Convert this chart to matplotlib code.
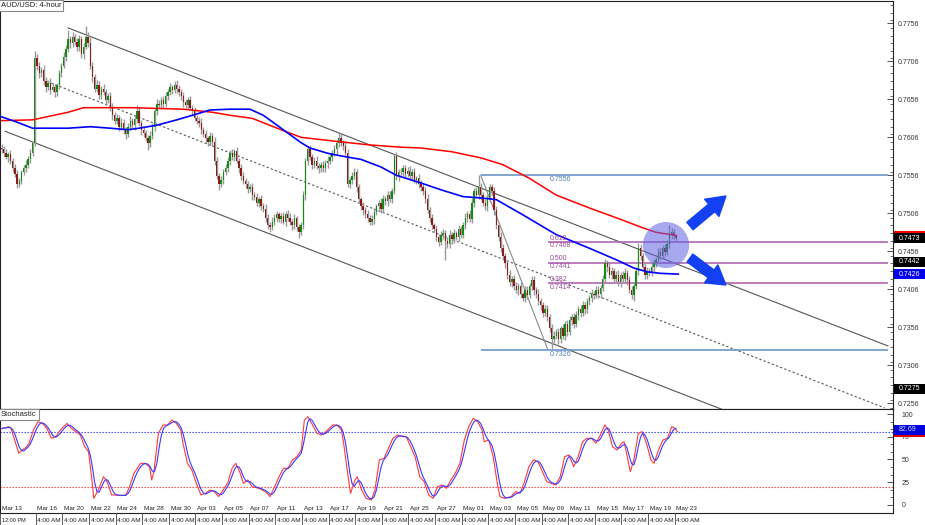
import numpy as np
import matplotlib
matplotlib.use("Agg")
import matplotlib.pyplot as plt
from matplotlib import font_manager
from matplotlib.patches import Ellipse, Rectangle
from matplotlib.transforms import blended_transform_factory
from matplotlib.lines import Line2D

_names = {f.name for f in font_manager.fontManager.ttflist}
FONT = "Liberation Sans Narrow" if "Liberation Sans Narrow" in _names else "Liberation Sans"
plt.rcParams["font.family"] = [FONT, "DejaVu Sans"]

# ---------------- data (prices in pips, 1 pip = 0.0001) ----------------
first_open = 7592
closes = [
    7590, 7585, 7580, 7584, 7575, 7565, 7558, 7545, 7548, 7560,
    7565, 7570, 7578, 7586, 7598, 7710, 7700, 7690, 7695, 7680,
    7672, 7678, 7668, 7672, 7665, 7675, 7690, 7700, 7712, 7722,
    7735, 7730, 7738, 7732, 7725, 7735, 7715, 7725, 7738, 7730,
    7700, 7685, 7670, 7675, 7662, 7670, 7665, 7655, 7660, 7645,
    7635, 7628, 7632, 7620, 7625, 7615, 7610, 7620, 7628, 7622,
    7630, 7640, 7625, 7615, 7612, 7605, 7598, 7608, 7620, 7640,
    7650, 7648, 7655, 7650, 7660, 7665, 7672, 7668, 7675, 7670,
    7665, 7660, 7652, 7648, 7655, 7645, 7640, 7632, 7628, 7625,
    7615, 7610, 7605, 7600, 7608, 7600, 7575, 7555, 7545, 7550,
    7560, 7565, 7575, 7585, 7580, 7588, 7575, 7565, 7555, 7548,
    7545, 7538, 7540, 7530, 7528, 7520, 7525, 7515, 7512, 7500,
    7490, 7488, 7495, 7500, 7505, 7498, 7502, 7495, 7505, 7500,
    7495, 7490, 7500, 7488, 7482, 7490, 7530, 7575, 7590, 7580,
    7570, 7575, 7568, 7565, 7570, 7565, 7572, 7575, 7580, 7585,
    7590, 7598, 7605, 7598, 7595, 7585, 7545, 7550, 7555, 7560,
    7540, 7525, 7515, 7510, 7505, 7500, 7495, 7498, 7508, 7515,
    7520, 7512, 7525, 7522, 7530, 7525, 7535, 7582, 7555, 7560,
    7560, 7565, 7558, 7562, 7555, 7560, 7550, 7552, 7545, 7540,
    7535, 7525, 7510, 7500, 7490, 7485, 7475, 7468, 7478, 7480,
    7470, 7465, 7478, 7472, 7480, 7475, 7485, 7478, 7490, 7500,
    7505, 7498, 7520, 7535, 7530, 7540, 7530, 7520, 7515, 7525,
    7540, 7535, 7510, 7490, 7475, 7460, 7450, 7440, 7425, 7415,
    7420, 7410, 7405, 7410, 7400, 7395, 7405, 7398, 7410, 7418,
    7405, 7400, 7390, 7385, 7375, 7380, 7370, 7355, 7340, 7345,
    7350, 7340, 7355, 7345, 7360, 7350, 7365, 7370, 7360, 7372,
    7380, 7375, 7385, 7380, 7390, 7395, 7400, 7398, 7405, 7400,
    7408, 7420, 7440, 7435, 7425, 7430, 7420, 7425, 7415, 7425,
    7420, 7428, 7418, 7405, 7398, 7410, 7430, 7460, 7450, 7435,
    7425, 7430, 7428, 7435, 7440, 7445, 7455, 7450, 7460, 7455,
    7465, 7478, 7482, 7476, 7473,
]
up_wick = [
    5, 4, 6, 3, 5, 4, 6, 5, 4, 3, 5, 6, 4, 5, 3, 10, 6, 5, 4, 6,
    5, 4, 6, 5, 4, 3, 5, 4, 6, 5, 12, 5, 6, 4, 5, 6, 4, 5, 14, 6,
    8, 5, 4, 6, 5, 4, 6, 5, 4, 5, 6, 4, 5, 3, 6, 5, 4, 5, 6, 4,
    5, 8, 6, 4, 5, 3, 4, 6, 5, 4, 6, 5, 4, 5, 6, 4, 5, 3, 5, 6,
    5, 4, 6, 5, 4, 5, 3, 6, 4, 5, 6, 4, 5, 3, 5, 4, 6, 5, 4, 5,
    4, 6, 5, 4, 6, 3, 5, 4, 6, 5, 4, 3, 5, 6, 4, 5, 3, 5, 4, 6,
    5, 4, 6, 5, 4, 3, 5, 6, 4, 5, 6, 4, 5, 3, 4, 5, 6, 4, 5, 6,
    4, 5, 6, 4, 3, 5, 4, 6, 5, 4, 6, 5, 8, 5, 4, 6, 5, 4, 6, 5,
    4, 5, 3, 6, 4, 5, 4, 6, 5, 3, 4, 6, 5, 4, 5, 6, 4, 4, 5, 4,
    6, 5, 4, 5, 6, 4, 5, 3, 6, 5, 4, 5, 6, 4, 5, 3, 6, 4, 5, 6,
    4, 5, 6, 4, 5, 3, 6, 4, 5, 6, 4, 5, 6, 4, 5, 16, 6, 4, 5, 6,
    5, 4, 6, 5, 4, 6, 5, 4, 5, 6, 4, 5, 6, 4, 5, 3, 6, 5, 4, 6,
    5, 4, 6, 5, 4, 5, 6, 4, 5, 6, 4, 5, 3, 6, 4, 5, 6, 4, 5, 6,
    4, 5, 6, 4, 5, 3, 6, 4, 5, 6, 4, 5, 6, 4, 5, 6, 4, 5, 6, 4,
    5, 6, 4, 5, 6, 4, 5, 7, 6, 4, 5, 6, 4, 5, 6, 4, 5, 6, 4, 5,
    6, 12, 5, 4, 3,
]
down_wick = [
    4, 5, 3, 6, 4, 5, 4, 6, 5, 4, 3, 5, 4, 6, 5, 4, 5, 6, 4, 5,
    6, 4, 5, 3, 6, 4, 5, 4, 3, 5, 4, 6, 5, 4, 6, 5, 4, 6, 3, 5,
    4, 6, 5, 4, 6, 5, 3, 6, 4, 5, 6, 5, 4, 6, 5, 4, 6, 3, 5, 4,
    6, 5, 4, 6, 5, 4, 9, 5, 4, 6, 5, 4, 5, 6, 4, 5, 3, 5, 4, 6,
    4, 5, 6, 4, 5, 3, 6, 5, 4, 6, 5, 4, 6, 5, 4, 5, 6, 4, 8, 5,
    6, 4, 5, 6, 4, 5, 3, 6, 5, 4, 6, 5, 4, 6, 5, 4, 6, 5, 4, 6,
    5, 6, 4, 5, 6, 4, 5, 3, 6, 4, 5, 6, 4, 5, 8, 5, 4, 6, 5, 4,
    6, 5, 4, 6, 5, 4, 5, 6, 4, 5, 4, 6, 5, 4, 6, 5, 4, 6, 5, 4,
    6, 5, 4, 6, 5, 6, 4, 5, 6, 4, 5, 6, 4, 5, 6, 4, 5, 4, 5, 6,
    4, 5, 6, 4, 5, 6, 4, 5, 6, 4, 5, 6, 4, 6, 5, 4, 6, 5, 4, 6,
    25, 5, 4, 6, 5, 4, 6, 5, 4, 5, 6, 4, 5, 6, 4, 5, 6, 4, 5, 6,
    4, 5, 6, 4, 6, 5, 4, 6, 5, 4, 6, 5, 4, 6, 5, 4, 6, 5, 4, 5,
    6, 5, 4, 6, 5, 4, 6, 5, 14, 5, 4, 6, 5, 4, 6, 5, 4, 6, 5, 4,
    6, 5, 4, 6, 5, 4, 6, 5, 4, 5, 6, 4, 5, 6, 4, 5, 6, 4, 5, 6,
    4, 5, 6, 4, 5, 8, 4, 5, 6, 4, 5, 6, 4, 5, 6, 4, 5, 6, 4, 5,
    4, 5, 6, 4, 4,
]

# moving averages (read at candle indices)
red_ma_idx = [0, 14, 30, 37, 59, 82, 95, 103, 113, 126, 135, 144, 153, 166, 180,
              189, 203, 216, 226, 238, 250, 265, 280, 288, 295, 304]
red_ma = [7628, 7629, 7639, 7645, 7645, 7643, 7639, 7635, 7631, 7616, 7606, 7603,
          7600, 7596, 7593, 7592, 7587, 7579, 7570, 7552, 7530, 7513, 7497, 7488,
          7481, 7477]
blue_ma_idx = [0, 7, 14, 30, 40, 49, 57, 62, 70, 79, 86, 94, 103, 112, 118, 127,
               135, 139, 147, 154, 162, 171, 178, 189, 198, 208, 217, 223, 235,
               250, 265, 277, 285, 291, 297, 305]
blue_ma = [7633, 7626, 7618, 7618, 7620, 7618, 7616, 7618, 7622, 7629, 7635, 7642,
           7643, 7643, 7635, 7616, 7599, 7592, 7585, 7581, 7577, 7567, 7556, 7546,
           7537, 7528, 7526, 7524, 7504, 7478, 7460, 7445, 7434, 7429, 7427, 7426]

# trend channel anchor points (candle index, pips)
channel_top = [(30, 7750), (399.5, 7331.5)]
channel_mid = [(18.7, 7681.5), (398, 7250)]
channel_bot = [(1.6, 7614), (327.4, 7245)]

# fibonacci retracement
fib_high, fib_low = 7556, 7326
fib_high_idx, fib_low_idx, fib_end_idx = 216, 246.3, 399.5
fib_levels = [0.618, 0.500, 0.382]

# stochastic main line readings
stoch_idx = [0, 3.3, 4.3, 6.4, 7.8, 9.4, 11.4, 12.4, 14.4, 16.4, 18.4, 20.4, 22.5,
             24.5, 26.5, 29.5, 31.5, 33.5, 35.5, 37.5, 39.2, 40.6, 41.6, 43.6, 46.0,
             47.6, 49.6, 51.6, 53.6, 56.1, 57.7, 59.7, 62.7, 64.7, 66.7, 67.7, 68.7,
             70.7, 72.8, 74.8, 76.8, 78.8, 80.8, 81.8, 83.8, 85.8, 87.8, 89.9, 91.9,
             93.9, 95.9, 97.9, 99.9, 101.9, 103.9, 105.6, 107.6, 109.0, 111.0, 113.0,
             116.0, 119.0, 121.0, 123.1, 125.1, 127.1, 129.1, 131.1, 133.1, 135.1,
             136.5, 138.1, 140.2, 142.2, 144.2, 146.2, 149.2, 151.2, 153.2, 154.2,
             155.8, 157.3, 159.3, 160.3, 162.3, 164.3, 166.7, 168.3, 170.3, 172.4,
             174.4, 176.4, 178.4, 180.4, 182.4, 184.4, 186.4, 188.5, 190.5, 192.5,
             194.5, 196.5, 198.5, 200.5, 202.5, 204.5, 206.6, 208.6, 210.6, 212.6,
             214.6, 216.6, 217.6, 219.6, 221.6, 223.7, 224.7, 226.7, 229.7, 231.7,
             233.7, 235.7, 237.7, 239.8, 241.8, 243.8, 245.8, 247.8, 249.8, 251.8,
             253.8, 255.8, 257.9, 259.9, 261.9, 263.9, 265.9, 267.9, 269.9, 271.9,
             273.4, 275.4, 277.4, 279.4, 280.6, 282.0, 283.4, 285.0, 287.0, 288.7,
             290.7, 292.7, 294.1, 296.1, 298.1, 300.1, 302.1, 303.5, 304.7]
stoch_main = [84, 86, 84, 67.8, 56.8, 60.4, 64.1, 67.8, 82.4, 91.6, 89.7, 84.3, 73.3,
              75.1, 82.4, 89.7, 84.3, 80.6, 76.9, 64.1, 58.6, 31.1, 7.3, 16.5, 31.1,
              25.6, 11.0, 11.0, 10.3, 11.0, 20.1, 34.8, 45.8, 45.8, 42.1, 27.5, 36.6,
              78.8, 87.9, 87.9, 93.4, 89.7, 82.4, 67.8, 45.8, 38.5, 23.8, 11.0, 12.8,
              16.5, 14.7, 9.2, 16.5, 23.8, 40.3, 45.8, 34.8, 23.8, 27.5, 20.1,
              18.3, 14.7, 9.2, 20.1, 31.1, 40.3, 40.3, 49.5, 53.1, 60.4,
              93.4, 97.1, 87.9, 78.8, 76.9, 80.6, 87.9, 87.9, 82.4, 67.8,
              38.5, 12.8, 27.5, 31.1, 16.5, 7.3, 5.5, 16.5, 49.5, 51.3,
              62.3, 73.3, 76.9, 75.1, 75.1, 64.1, 53.1, 31.1, 25.6, 11.0,
              7.3, 20.1, 22.0, 18.3, 27.5, 34.8, 45.8, 71.4, 86.1, 95.2,
              91.6, 82.4, 69.6, 71.4, 53.1, 20.1, 9.2, 7.3, 9.2, 14.7,
              12.8, 25.6, 42.1, 49.5, 47.6, 36.6, 25.6, 23.8, 22.0, 31.1,
              53.1, 55.0, 42.1, 53.1, 69.6, 73.3, 73.3, 67.8, 76.9, 87.9,
              82.4, 64.1, 60.4, 67.8, 69.6, 53.1, 36.6, 49.5, 78.8, 80.6,
              67.8, 49.5, 45.8, 60.4, 71.4, 73.3, 86.1, 84.3, 80.6]
stoch_signal_label = 82.69

date_labels = ["Mar 13", "Mar 16", "Mar 20", "Mar 22", "Mar 24", "Mar 28", "Mar 30",
               "Apr 03", "Apr 05", "Apr 07", "Apr 11", "Apr 13", "Apr 17", "Apr 19",
               "Apr 21", "Apr 25", "Apr 27", "May 01", "May 03", "May 05", "May 09",
               "May 11", "May 15", "May 17", "May 19", "May 23"]
date_idx = [0] + [16 + 12 * k for k in range(25)]
time_labels = ["12:00 PM"] + ["4:00 AM"] * 25

price_ticks = [0.7256, 0.7306, 0.7356, 0.7406, 0.7456, 0.7506, 0.7556, 0.7606,
               0.7656, 0.7706, 0.7756]
extra_boxes = [(0.7442, "black", "white"), (0.7275, "black", "white")]

# ---------------- figure ----------------
W, H = 925, 525
fig = plt.figure(figsize=(W / 100, H / 100), dpi=100)
fig.patch.set_facecolor("white")
ax = fig.add_axes([0, 116 / H, 893 / W, 408 / H])
ax2 = fig.add_axes([0, 12 / H, 893 / W, 104 / H])

XL = (-0.68, 401.8)
YL = (0.72485, 0.77854)
SL = (-8.8, 105.5)
LAB_FS = 5.0

c = np.array(closes) / 1e4
o = np.concatenate([[first_open], closes[:-1]]) / 1e4
hi = np.maximum(o, c) + np.array(up_wick) / 1e4
lo = np.minimum(o, c) - np.array(down_wick) / 1e4
idx = np.arange(len(c))

ax.vlines(idx, lo, hi, color="#9a9a9a", lw=1.0, zorder=2)
bull = c >= o
body_b = np.minimum(o, c)
body_h = np.maximum(np.abs(c - o), 0.00008)
ax.bar(idx[bull], body_h[bull], bottom=body_b[bull], width=0.62, color="#128c12",
       linewidth=0, zorder=3)
ax.bar(idx[~bull], body_h[~bull], bottom=body_b[~bull], width=0.62, color="#8c1c1c",
       linewidth=0, zorder=3)

# channel
for pts, ls in ((channel_top, "-"), (channel_mid, (0, (2, 2))), (channel_bot, "-")):
    xs = [p[0] for p in pts]
    ys = [p[1] / 1e4 for p in pts]
    ax.plot(xs, ys, color="#555555", lw=0.8, ls=ls, zorder=1.5)

# moving averages
ax.plot(red_ma_idx, np.array(red_ma) / 1e4, color="#ff0000", lw=1.1, zorder=4)
ax.plot(blue_ma_idx, np.array(blue_ma) / 1e4, color="#0000ff", lw=1.2, zorder=4)

# fibonacci
fh, fl = fib_high / 1e4, fib_low / 1e4
ax.plot([fib_high_idx, fib_low_idx], [fh, fl], color="#8a8a8a", lw=0.8, zorder=1.6)
for v in (fh, fl):
    ax.hlines(v, fib_high_idx, fib_end_idx, color="#6c98c8", lw=1.2, zorder=1.7)
    ax.text(fib_low_idx + 1, v - 0.0001, f"{v:.4f}", color="#4f7fb5", fontsize=5,
            va="top", ha="left", zorder=7)
for lv in fib_levels:
    pv = fl + lv * (fh - fl)
    ax.hlines(pv, fib_low_idx, fib_end_idx, color="#b266b2", lw=1.2, zorder=1.7)
    ax.text(fib_low_idx + 0.8, pv + 0.00003, f"{lv:.3f}", color="#9a4a9a",
            fontsize=5, va="bottom", ha="left", zorder=7)
    ax.text(fib_low_idx + 0.8, pv - 0.00003, f"{pv:.4f}", color="#9a4a9a",
            fontsize=5, va="top", ha="left", zorder=7)

# highlight circle and arrows
ax.add_patch(Ellipse((299.5, 0.74643), 20.8, 0.00605, facecolor=(0.38, 0.38, 0.88),
                     alpha=0.55, edgecolor="none", zorder=5))
arrow_style = "simple,head_length=0.95,head_width=1.15,tail_width=0.5"
ax.annotate("", xy=(326.5, 0.75288), xytext=(310.3, 0.74893),
            arrowprops=dict(arrowstyle=arrow_style, color="#1240f2",
                            mutation_scale=14, shrinkA=0, shrinkB=0), zorder=6)
ax.annotate("", xy=(326.5, 0.74117), xytext=(310.3, 0.74472),
            arrowprops=dict(arrowstyle=arrow_style, color="#1240f2",
                            mutation_scale=14, shrinkA=0, shrinkB=0), zorder=6)

ax.set_xlim(*XL)
ax.set_ylim(*YL)
ax.set_xticks([])
ax.yaxis.tick_right()
ax.set_yticks(price_ticks)
ax.set_yticklabels([f"{t:.4f}" for t in price_ticks])
ax.set_yticks(np.round(np.arange(0.7250, 0.7786, 0.001), 4), minor=True)
ax.tick_params(axis="y", which="major", direction="in", length=4, width=0.6,
               labelsize=LAB_FS, pad=3.5, labelcolor="#333333", color="#333333")
ax.tick_params(axis="y", which="minor", direction="in", length=2, width=0.5,
               color="#333333")
for s in ax.spines.values():
    s.set_linewidth(0.8)
    s.set_color("#222222")

# ---------------- stochastic ----------------
grid = np.arange(0, 305)
k_grid = np.interp(grid, stoch_idx, stoch_main)
d_grid = np.convolve(k_grid, np.ones(3) / 3, mode="full")[:len(grid)]
d_grid[:2] = k_grid[:2]
ax2.plot(stoch_idx, stoch_main, color="#ff3a3a", lw=0.8, zorder=3)
ax2.plot(grid, d_grid, color="#3a3aff", lw=0.8, zorder=3)
ax2.axhline(80, color="#3333ff", lw=0.8, ls=(0, (1.2, 1.5)), zorder=2)
ax2.axhline(20, color="#ff3333", lw=0.8, ls=(0, (1.2, 1.5)), zorder=2)
ax2.set_xlim(*XL)
ax2.set_ylim(*SL)
ax2.set_xticks([])
ax2.yaxis.tick_right()
ax2.set_yticks([0, 25, 50, 75, 100])
ax2.set_yticklabels(["0", "25", "50", "75", "100"])
ax2.set_yticks(np.arange(0, 101, 25 / 3), minor=True)
ax2.tick_params(axis="y", which="major", direction="in", length=4, width=0.6,
                labelsize=LAB_FS, pad=6, labelcolor="#333333", color="#333333")
ax2.tick_params(axis="y", which="minor", direction="in", length=2, width=0.5,
                color="#333333")
for s in ax2.spines.values():
    s.set_linewidth(0.8)
    s.set_color("#222222")

# ---------------- right-side value boxes ----------------
def value_box(axis, ylim, val, txt, fc, tc, hpx=10):
    pos = axis.get_position()
    fy = pos.y0 + (val - ylim[0]) / (ylim[1] - ylim[0]) * pos.height
    fig.add_artist(Rectangle((894 / W, fy - hpx / 2 / H), 31 / W, hpx / H,
                             transform=fig.transFigure, facecolor=fc,
                             edgecolor="none", zorder=5))
    if txt:
        fig.text(899 / W, fy, txt, color=tc, fontsize=LAB_FS, va="center",
                 ha="left", zorder=6)

# red MA marker box (its value is hidden behind the last-price box)
value_box(ax, YL, closes[-1] / 1e4 + 0.0003, "", "#ff0000", "white")
value_box(ax, YL, closes[-1] / 1e4, f"{closes[-1] / 1e4:.4f}", "black", "white")
for v, fc, tc in extra_boxes:
    value_box(ax, YL, v, f"{v:.4f}", fc, tc)
value_box(ax, YL, blue_ma[-1] / 1e4, f"{blue_ma[-1] / 1e4:.4f}", "#0000ee", "white")
value_box(ax2, SL, stoch_signal_label - 4.5, "", "#dd0000", "white", hpx=6)
value_box(ax2, SL, stoch_signal_label, f"{stoch_signal_label:.2f}", "#0000dd", "#d8d8ff")

# ---------------- titles ----------------
fig.text(1 / W, 1 - 5.5 / H, "AUD/USD: 4-hour", fontsize=5.5, color="#222222",
         va="center", ha="left",
         bbox=dict(boxstyle="square,pad=0.25", facecolor="white",
                   edgecolor="#8a8a8a", linewidth=0.8), zorder=8)
fig.text(1 / W, 1 - 414.5 / H, "Stochastic", fontsize=5.5, color="#222222",
         va="center", ha="left",
         bbox=dict(boxstyle="square,pad=0.25", facecolor="white",
                   edgecolor="#8a8a8a", linewidth=0.8), zorder=8)

# ---------------- time axis ----------------
tr = blended_transform_factory(ax2.transData, fig.transFigure)
for lab, tl, i in zip(date_labels, time_labels, date_idx):
    fig.text(i + 0.2, 1 - 508.5 / H, lab, transform=tr, fontsize=4.6, color="#222222",
             va="center", ha="left", zorder=7)
    fig.text(i + 0.2, 1 - 520 / H, tl, transform=tr,
             fontsize=4.0 if i == 0 else 4.6, color="#222222",
             va="center", ha="left", zorder=7)
    fig.add_artist(Line2D([i - 0.6, i - 0.6], [0, 12 / H], transform=tr,
                          color="#444444", lw=0.6))

fig.savefig("out.png", dpi=100, facecolor="white")
